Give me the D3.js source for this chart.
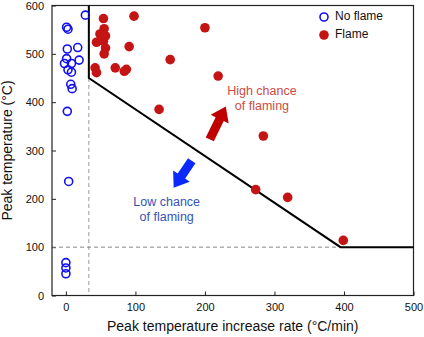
<!DOCTYPE html>
<html>
<head>
<meta charset="UTF-8">
<script src="https://cdnjs.cloudflare.com/ajax/libs/d3/7.8.5/d3.min.js"></script>
<style>
  body { margin: 0; background: #fff; }
  text { font-family: "Liberation Sans", Arial, Helvetica, sans-serif; }
</style>
</head>
<body>
<div id="chart"></div>
<script>
// rate (°C/min), peak temperature (°C)
const noFlameRate = [28, 1, 3, 2, 17, 1, 19, -2, 8, 3, 8, 7, 9, 2, 4, 0, 0, 0];
const noFlameTemp = [580, 555, 551, 510, 513, 490, 487, 480, 480, 467, 462, 437, 428, 381, 236, 68, 57, 45];
const flameRate = [54, 98, 55, 49, 57, 44, 54, 57, 55, 91, 42, 44, 71, 84, 87, 150, 200, 134, 219, 284, 273, 319, 399];
const flameTemp = [573, 578, 552, 541, 537, 524, 526, 512, 500, 515, 471, 461, 471, 464, 468, 488, 554, 385, 454, 330, 219, 203, 114];

// boundary between regions
const boundaryRate = [33, 33, 395, 500];
const boundaryTemp = [600, 450, 100, 100];

const xTicks = [0, 100, 200, 300, 400, 500];
const yTicks = [0, 100, 200, 300, 400, 500, 600];

const W = 424, H = 337;
const margin = {left: 52, top: 5.5, right: 10.5, bottom: 41.5};
const innerW = W - margin.left - margin.right;
const innerH = H - margin.top - margin.bottom;

const svg = d3.select("#chart").append("svg")
  .attr("width", W).attr("height", H);
const g = svg.append("g")
  .attr("transform", `translate(${margin.left},${margin.top})`);

const x = d3.scaleLinear().domain([-20, 500]).range([0, innerW]);
const y = d3.scaleLinear().domain([0, 600]).range([innerH, 0]);

// axes (ticks point inward)
const xAxis = g.append("g").attr("transform", `translate(0,${innerH})`)
  .call(d3.axisBottom(x).tickValues(xTicks).tickSizeInner(-4).tickSizeOuter(0).tickPadding(8));
const yAxis = g.append("g")
  .call(d3.axisLeft(y).tickValues(yTicks).tickSizeInner(-4).tickSizeOuter(0).tickPadding(8));
[xAxis, yAxis].forEach(a => {
  a.select(".domain").remove();
  a.selectAll("line").attr("stroke", "#222");
  a.selectAll("text").attr("font-size", 11).attr("fill", "#111")
    .style("font-family", "'Liberation Sans', Arial, sans-serif");
});

// dashed guides
g.append("line")
  .attr("x1", x(33)).attr("x2", x(33)).attr("y1", y(450)).attr("y2", y(0))
  .attr("stroke", "#999").attr("stroke-width", 1).attr("stroke-dasharray", "4,3");
g.append("line")
  .attr("x1", x(-20)).attr("x2", x(395)).attr("y1", y(100)).attr("y2", y(100))
  .attr("stroke", "#888").attr("stroke-width", 1).attr("stroke-dasharray", "4,3");

// frame
g.append("rect").attr("width", innerW).attr("height", innerH)
  .attr("fill", "none").attr("stroke", "#222").attr("stroke-width", 1.2);

// boundary line
g.append("path")
  .datum(d3.zip(boundaryRate, boundaryTemp))
  .attr("d", d3.line().x(d => x(d[0])).y(d => y(d[1])))
  .attr("fill", "none").attr("stroke", "#000").attr("stroke-width", 2);

// points
g.selectAll(".nf").data(d3.zip(noFlameRate, noFlameTemp)).enter()
  .append("circle").attr("class", "nf")
  .attr("cx", d => x(d[0])).attr("cy", d => y(d[1])).attr("r", 4)
  .attr("fill", "none").attr("stroke", "#1010f0").attr("stroke-width", 1.6);
g.selectAll(".fl").data(d3.zip(flameRate, flameTemp)).enter()
  .append("circle").attr("class", "fl")
  .attr("cx", d => x(d[0])).attr("cy", d => y(d[1])).attr("r", 4.8)
  .attr("fill", "#c41414");

// block arrows
function arrow(x0, y0, x1, y1, color) {
  const dx = x1 - x0, dy = y1 - y0, L = Math.hypot(dx, dy);
  const ux = dx / L, uy = dy / L, nx = -uy, ny = ux;
  const sw = 4.5, hw = 10, hl = 14;
  const bx = x1 - ux * hl, by = y1 - uy * hl;
  const pts = [
    [x0 + nx * sw, y0 + ny * sw], [bx + nx * sw, by + ny * sw], [bx + nx * hw, by + ny * hw],
    [x1, y1],
    [bx - nx * hw, by - ny * hw], [bx - nx * sw, by - ny * sw], [x0 - nx * sw, y0 - ny * sw]
  ];
  g.append("polygon").attr("points", pts.map(p => p.join(",")).join(" ")).attr("fill", color);
}
arrow(x(207), y(323), x(230), y(391), "#c00000");
arrow(x(181), y(279), x(155), y(223), "#0a28ff");

// annotations
const note = (lines, cx, cy, color) => {
  lines.forEach((t, i) => {
    g.append("text").attr("x", x(cx)).attr("y", y(cy) + i * 15.5)
      .attr("text-anchor", "middle").attr("dominant-baseline", "middle")
      .attr("font-size", 12.5).attr("fill", color).text(t);
  });
};
note(["High chance", "of flaming"], 282, 422, "#cc4c45");
note(["Low chance", "of flaming"], 145, 192, "#3553b8");

// legend
const lg = svg.append("g").attr("transform", "translate(324,17)");
lg.append("circle").attr("r", 4).attr("fill", "none").attr("stroke", "#1010f0").attr("stroke-width", 1.6);
lg.append("text").attr("x", 11).attr("y", 0).attr("dominant-baseline", "middle")
  .attr("font-size", 12).attr("fill", "#111").text("No flame");
lg.append("circle").attr("cy", 18).attr("r", 4.8).attr("fill", "#c41414");
lg.append("text").attr("x", 11).attr("y", 18).attr("dominant-baseline", "middle")
  .attr("font-size", 12).attr("fill", "#111").text("Flame");

// axis titles
svg.append("text").attr("x", margin.left + x(240)).attr("y", 331)
  .attr("text-anchor", "middle").attr("font-size", 14).attr("fill", "#111")
  .text("Peak temperature increase rate (°C/min)");
svg.append("text")
  .attr("transform", `translate(12,${margin.top + innerH / 2}) rotate(-90)`)
  .attr("text-anchor", "middle").attr("font-size", 14).attr("fill", "#111")
  .text("Peak temperature (°C)");
</script>
</body>
</html>
